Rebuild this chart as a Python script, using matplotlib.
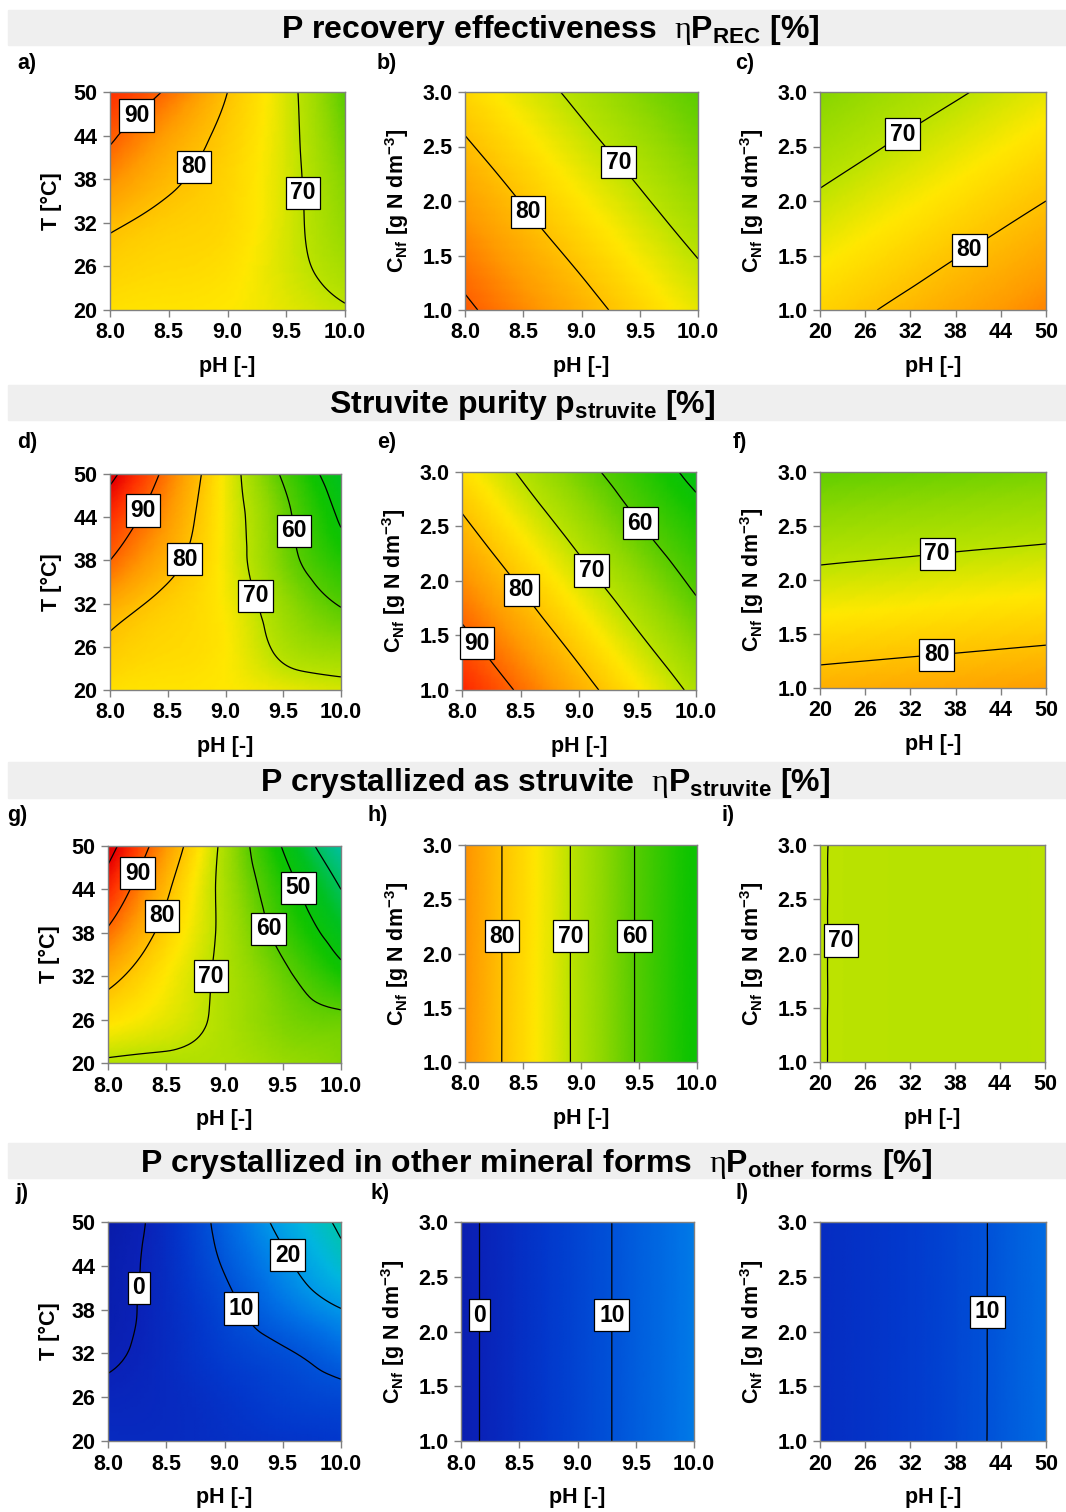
import matplotlib
matplotlib.use("Agg")
import matplotlib.pyplot as plt
import matplotlib.tri as mtri
from matplotlib.colors import LinearSegmentedColormap, Normalize
from matplotlib.patches import Rectangle
import numpy as np

plt.rcParams['font.family'] = ['Liberation Sans', 'DejaVu Sans']
plt.rcParams['font.weight'] = 'bold'
plt.rcParams['axes.labelweight'] = 'bold'
plt.rcParams['mathtext.fontset'] = 'custom'
plt.rcParams['mathtext.rm'] = 'Liberation Sans:bold'
plt.rcParams['mathtext.bf'] = 'Liberation Sans:bold'
plt.rcParams['mathtext.it'] = 'Liberation Sans:bold'
plt.rcParams['mathtext.sf'] = 'Liberation Serif:weight=normal'

# axis ticks (the value grids below are read at these nodes)
ph_ticks = [8.0, 8.5, 9.0, 9.5, 10.0]
t_ticks = [20, 26, 32, 38, 44, 50]
c_ticks = [1.0, 1.5, 2.0, 2.5, 3.0]

# --- values, rows = y ticks (bottom -> top), cols = x ticks
# P recovery effectiveness
a_vals = [[76, 75.5, 75, 73, 70.5],
          [78, 77, 76, 72, 67.5],
          [81, 78.5, 77, 72, 65.5],
          [86, 81, 77.5, 72, 64],
          [91, 84, 78.5, 72, 62],
          [95, 89, 80, 72, 60]]
b_vals = [[91.0, 86.5, 82.1, 77.6, 73.2],
          [87.6, 83.1, 78.7, 74.2, 69.8],
          [84.2, 79.7, 75.2, 70.8, 66.3],
          [80.7, 76.3, 71.8, 67.4, 62.9],
          [77.3, 72.8, 68.4, 63.9, 60.2]]
c_vals = [[77.7, 79.5, 81.4, 83.2, 85.0, 86.9],
          [74.3, 76.1, 77.9, 79.8, 81.6, 83.4],
          [70.8, 72.7, 74.5, 76.3, 78.2, 80.0],
          [67.4, 69.2, 71.1, 72.9, 74.7, 76.6],
          [63.9, 65.8, 67.6, 69.4, 71.3, 73.1]]
# struvite purity
d_vals = [[76, 75.5, 75, 73.5, 72],
          [79, 77, 75, 68.5, 65.5],
          [83, 78.5, 74.5, 66, 59.5],
          [90, 82, 74, 63, 54],
          [95, 85, 74, 62, 49],
          [102, 88, 74, 59, 45]]
e_vals = [[96.0, 89.2, 82.3, 75.5, 68.6],
          [91.1, 84.2, 77.4, 70.5, 63.7],
          [86.1, 79.3, 72.4, 65.6, 58.7],
          [81.2, 74.3, 67.5, 60.6, 53.8],
          [76.2, 69.4, 62.5, 55.7, 47.5]]
f_vals = [[82.3, 82.7, 83.1, 83.5, 83.9, 84.3],
          [76.9, 77.3, 77.7, 78.1, 78.5, 78.9],
          [71.5, 71.9, 72.3, 72.8, 73.2, 73.6],
          [66.1, 66.6, 67.0, 67.4, 67.8, 68.2],
          [60.8, 61.2, 61.6, 62.0, 62.4, 62.8]]
# P crystallized as struvite
g_vals = [[69, 68.5, 68.5, 66, 64],
          [76, 73, 68.5, 63.5, 61.5],
          [82, 75, 68.5, 61.5, 53],
          [89, 78, 68.5, 57.5, 46],
          [96, 81, 68, 54, 40],
          [103, 85, 68, 49.5, 33]]
h_row = [85.6, 76.9, 68.4, 59.3, 50.6]          # same for every C
i_row = [70.08, 69.68, 69.5, 69.45, 69.5, 69.6]  # same for every C
# P crystallized in other mineral forms
j_vals = [[2, 2, 3, 4, 5],
          [0.8, 1.8, 4, 6.5, 8],
          [-0.7, 2, 6, 9.2, 13.5],
          [-1.8, 2.2, 8, 14.5, 19.8],
          [-2, 2.5, 10.5, 18.5, 27],
          [-3, 2.5, 12.5, 22, 31.5]]
k_row = [-1.4, 3.0, 7.4, 11.8, 16.1]
l_row = [2.5, 3.8, 5.5, 7.8, 11.0, 14.0]

titles = [r"P recovery effectiveness  $\mathsf{\eta}$P$_{\rm REC}$ [%]",
          r"Struvite purity p$_{\rm struvite}$ [%]",
          r"P crystallized as struvite  $\mathsf{\eta}$P$_{\rm struvite}$ [%]",
          r"P crystallized in other mineral forms  $\mathsf{\eta}$P$_{\rm other\ forms}$ [%]"]

T_LABEL = 'T [°C]'
C_LABEL = r'C$_{\rm Nf}$ [g N dm$^{-3}$]'

# colour maps
ryg_stops = [33, 38, 45, 52, 60, 65, 70, 75, 80, 85, 90, 95, 100, 105]
ryg_cols = ['#00bfa0', '#00c070', '#00c020', '#10c400', '#58cc00', '#90d800', '#bce300',
            '#ffe800', '#ffc200', '#ff9a00', '#ff6400', '#ff3000', '#e80000', '#d00000']
blue_stops = [-5, 0, 5, 10, 15, 20, 25, 30, 35]
blue_cols = ['#0818a0', '#0a22b8', '#0238cc', '#0052d8', '#0072e6', '#0098e8',
             '#00b6e0', '#00c2b4', '#10c888']


def make_cmap(stops, cols):
    lo, hi = stops[0], stops[-1]
    pos = [(s - lo) / (hi - lo) for s in stops]
    return LinearSegmentedColormap.from_list('m', list(zip(pos, cols))), Normalize(lo, hi)


RYG = make_cmap(ryg_stops, ryg_cols)
BLUE = make_cmap(blue_stops, blue_cols)
RYG_LEVELS = np.arange(30, 111, 10)
BLUE_LEVELS = np.arange(-10, 41, 10)


def smooth_field(xs, ys, vals):
    nx, ny = len(xs), len(ys)
    u, v = np.meshgrid(np.linspace(0, 1, nx), np.linspace(0, 1, ny))
    tris = []
    for j in range(ny - 1):
        for i in range(nx - 1):
            k = j * nx + i
            tris.append([k, k + 1, k + nx + 1])
            tris.append([k, k + nx + 1, k + nx])
    tri = mtri.Triangulation(u.ravel(), v.ravel(), tris)
    z = np.asarray(vals, float).ravel()
    interp = mtri.CubicTriInterpolator(tri, z, kind='min_E')
    tri_f, z_f = mtri.UniformTriRefiner(tri).refine_field(z, triinterpolator=interp, subdiv=4)
    x0, x1, y0, y1 = xs[0], xs[-1], ys[0], ys[-1]
    tri_d = mtri.Triangulation(x0 + tri_f.x * (x1 - x0), y0 + tri_f.y * (y1 - y0), tri_f.triangles)
    return tri_d, z_f


W, H = 1066, 1512
fig = plt.figure(figsize=(W / 100, H / 100), dpi=100)

# section bands and titles
bands = [(10, 45, 550, 38), (385, 420, 522, 413), (762, 798, 545, 791), (1143, 1178, 536, 1172)]
for (top, bot, xc, base), title in zip(bands, titles):
    fig.add_artist(Rectangle((8 / W, 1 - bot / H), 1058 / W, (bot - top) / H,
                             transform=fig.transFigure, color='#efefef', zorder=0))
    fig.text(xc / W, 1 - base / H, title, ha='center', va='baseline', fontsize=23)

panels = [
    ('a', (27, 64), (110, 92, 345, 310), ph_ticks, t_ticks, a_vals, 'ryg', T_LABEL,
     [(90, 8.2, 47.2), (80, 8.65, 40.4), (70, 9.62, 36.1)]),
    ('b', (387, 64), (465, 92, 698, 310), ph_ticks, c_ticks, b_vals, 'ryg', C_LABEL,
     [(80, 8.63, 1.98), (70, 9.40, 2.43)]),
    ('c', (745, 64), (820, 92, 1046, 310), t_ticks, c_ticks, c_vals, 'ryg', C_LABEL,
     [(70, 30.0, 2.71), (80, 38.75, 1.67)]),
    ('d', (27, 443), (110, 474, 341, 690), ph_ticks, t_ticks, d_vals, 'ryg', T_LABEL,
     [(90, 8.24, 45.3), (80, 8.54, 38.9), (70, 9.21, 32.8), (60, 9.65, 42.2)]),
    ('e', (387, 443), (462, 472, 696, 690), ph_ticks, c_ticks, e_vals, 'ryg', C_LABEL,
     [(90, 8.25, 1.53), (80, 8.59, 1.99), (70, 9.17, 2.15), (60, 9.56, 2.56)]),
    ('f', (740, 443), (820, 472, 1046, 688), t_ticks, c_ticks, f_vals, 'ryg', C_LABEL,
     [(70, 35.3, 2.41), (80, 35.3, 1.48)]),
    ('g', (17, 816), (108, 846, 341, 1063), ph_ticks, t_ticks, g_vals, 'ryg', T_LABEL,
     [(90, 8.19, 46.7), (80, 8.42, 40.6), (70, 8.86, 32.0), (60, 9.42, 38.8), (50, 9.69, 44.6)]),
    ('h', (378, 816), (465, 845, 697, 1062), ph_ticks, c_ticks,
     np.tile(h_row, (len(c_ticks), 1)), 'ryg', C_LABEL,
     [(80, 8.30, 2.16), (70, 8.88, 2.16), (60, 9.46, 2.16)]),
    ('i', (728, 816), (820, 845, 1045, 1062), t_ticks, c_ticks,
     np.tile(i_row, (len(c_ticks), 1)), 'ryg', C_LABEL,
     [(70, 22.8, 2.12, 'keep')]),
    ('j', (22, 1193), (108, 1222, 341, 1441), ph_ticks, t_ticks, j_vals, 'blue', T_LABEL,
     [(0, 8.19, 41.1), (10, 9.22, 38.9), (20, 9.63, 46.2)]),
    ('k', (380, 1193), (461, 1222, 694, 1441), ph_ticks, c_ticks,
     np.tile(k_row, (len(c_ticks), 1)), 'blue', C_LABEL,
     [(0, 8.16, 2.15), (10, 9.3, 2.15)]),
    ('l', (742, 1193), (820, 1222, 1046, 1441), t_ticks, c_ticks,
     np.tile(l_row, (len(c_ticks), 1)), 'blue', C_LABEL,
     [(10, 42.3, 2.18)]),
]

for letter, (lx, ly), (l, t, r, b), xs, ys, vals, cm, ylab, labels in panels:
    ax = fig.add_axes([l / W, 1 - b / H, (r - l) / W, (b - t) / H])
    cmap, norm = RYG if cm == 'ryg' else BLUE
    levels = RYG_LEVELS if cm == 'ryg' else BLUE_LEVELS
    tri_d, z_f = smooth_field(xs, ys, vals)
    ax.tripcolor(tri_d, z_f, shading='gouraud', cmap=cmap, norm=norm)
    ax.tricontour(tri_d, z_f, levels=levels, colors='black', linewidths=0.9)
    ax.set_xlim(xs[0], xs[-1])
    ax.set_ylim(ys[0], ys[-1])

    # one invisible contour set per labelled level, so the label sits on that line
    for spec in labels:
        lev, x, y = spec[:3]
        cs1 = ax.tricontour(tri_d, z_f, levels=[lev], colors='black', linewidths=0)
        txts = cs1.clabel(manual=[(x, y)], inline=False, fmt='%d', fontsize=16.5)
        for txt in txts:
            if len(spec) > 3:
                txt.set_position((x, y))
            txt.set_rotation(0)
            txt.set_fontweight('bold')
            txt.set_bbox(dict(boxstyle='square,pad=0.2', fc='white', ec='black', lw=0.9))
            txt.set_clip_on(False)

    ax.set_xticks(xs)
    ax.set_yticks(ys)
    xfmt = '{:.1f}' if xs is ph_ticks else '{:d}'
    yfmt = '{:d}' if ys is t_ticks else '{:.1f}'
    ax.set_xticklabels([xfmt.format(v) for v in xs], fontsize=15.5, fontweight='bold')
    ax.set_yticklabels([yfmt.format(v) for v in ys], fontsize=15.5, fontweight='bold')
    ax.tick_params(direction='out', length=5, width=1, color='#808080', pad=4)
    for s in ax.spines.values():
        s.set_color('#808080')
        s.set_linewidth(1)
    ax.set_xlabel('pH [-]', fontsize=15.5, fontweight='bold', labelpad=9)
    ax.set_ylabel(ylab, fontsize=15.5, fontweight='bold', labelpad=8)

    fig.text(lx / W, 1 - ly / H, letter + ')', ha='center', va='center', fontsize=15.5)

fig.savefig('out.png', dpi=100)
